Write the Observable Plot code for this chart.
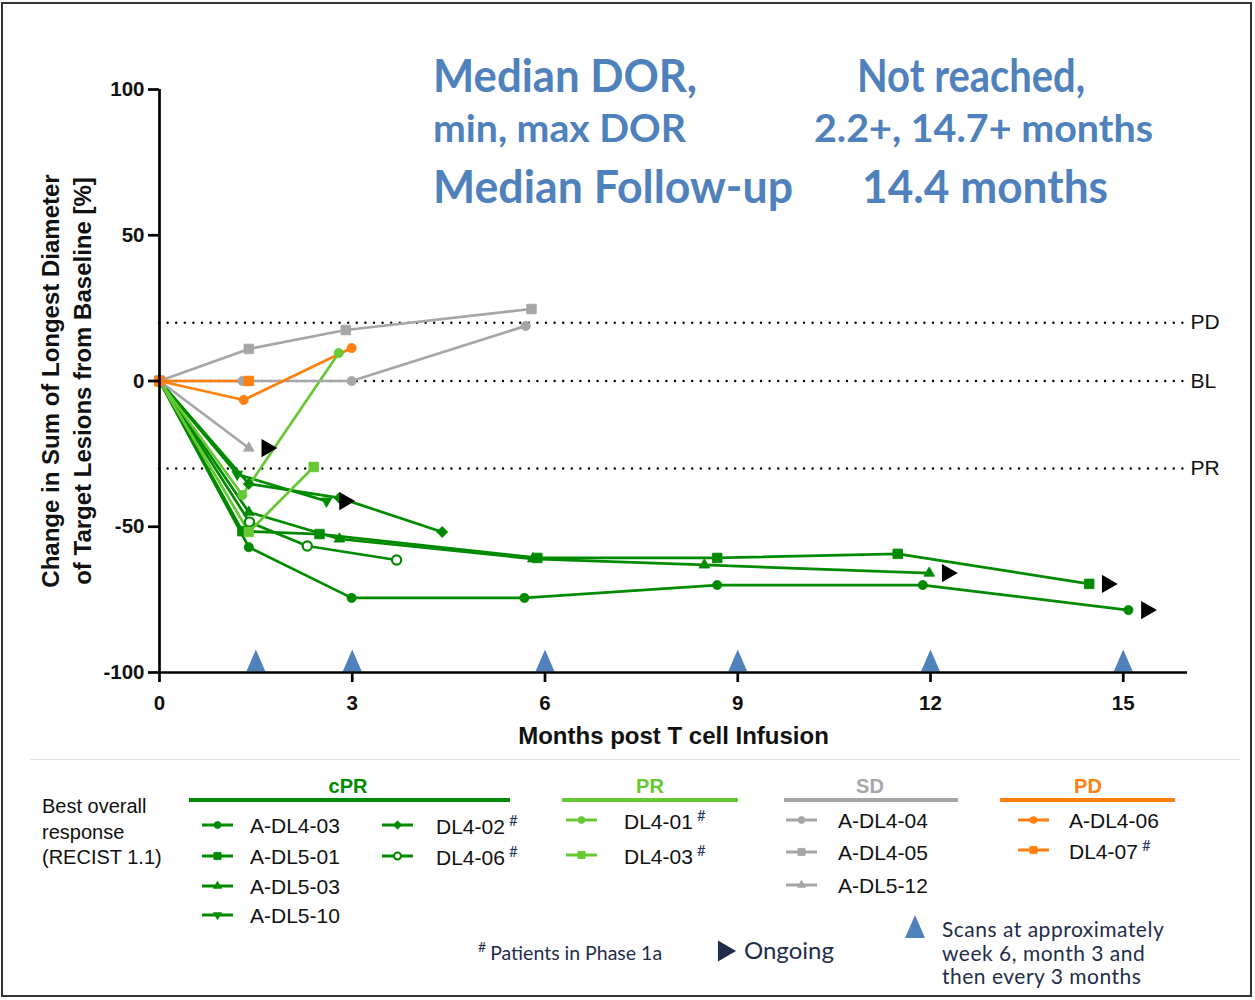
<!DOCTYPE html>
<html>
<head>
<meta charset="utf-8">
<script src="https://cdn.jsdelivr.net/npm/d3@7"></script>
<script src="https://cdn.jsdelivr.net/npm/@observablehq/plot@0.6"></script>
<style>
  body { margin: 0; background: #fff; }
  #wrap { position: relative; width: 1255px; height: 1000px; overflow: hidden; font-family: "Liberation Sans", Arial, sans-serif; background: #fff; }
  #chart { position: absolute; left: 0; top: 0; }
  #frame { position: absolute; left: 1px; top: 2px; width: 1251px; height: 995px; border: 2px solid #333; box-sizing: border-box; pointer-events: none; }
  #sep { position: absolute; left: 30px; top: 759px; width: 1210px; height: 0; border-top: 1px solid #e2e2e2; }
  .ann { position: absolute; font-family: Lato, "Open Sans", sans-serif; font-weight: bold; color: #4f81bd; white-space: nowrap; line-height: 1; }
  .lg { position: absolute; white-space: nowrap; line-height: 1; transform: translateY(-50%); font-size: 20px; color: #111; }
  .hd { position: absolute; font-weight: bold; font-size: 20px; transform: translate(-50%, -50%); line-height: 1; }
  .bar { position: absolute; height: 4px; }
  .sup { font-family: Lato, sans-serif; color: #1f3864; font-size: 15px; vertical-align: 0.55em; margin-left: 4px; }
  .note { position: absolute; font-family: Lato, "Open Sans", sans-serif; color: #1f2d4a; white-space: nowrap; line-height: 1; }
  svg.mk { position: absolute; overflow: visible; }
</style>
</head>
<body>
<div id="wrap">
  <div id="chart"></div>
  <div id="sep"></div>
  <div id="legend"></div>
  <div id="frame"></div>
</div>
<script>
// ---------------- data ----------------
const patients = ["A-DL4-03","A-DL5-01","A-DL5-03","A-DL5-10","DL4-02","DL4-06","DL4-01","DL4-03","A-DL4-04","A-DL4-05","A-DL5-12","A-DL4-06","DL4-07"];
const bestResponse = ["cPR","cPR","cPR","cPR","cPR","cPR","PR","PR","SD","SD","SD","PD","PD"];
const phase1a = ["DL4-02","DL4-06","DL4-01","DL4-03","DL4-07"];
const ongoing = ["A-DL4-03","A-DL5-01","A-DL5-03","A-DL5-10","A-DL5-12"];
const monthsByPatient = [
  [0, 1.39, 2.99, 5.68, 8.68, 11.88, 15.08],
  [0, 1.29, 2.49, 5.88, 8.68, 11.49, 14.47],
  [0, 1.39, 2.80, 5.81, 8.48, 11.98],
  [0, 1.21, 2.60],
  [0, 1.39, 2.80, 4.40],
  [0, 1.40, 2.30, 3.69],
  [0, 1.29, 2.79],
  [0, 1.39, 2.40],
  [0, 1.29, 2.99, 5.70],
  [0, 1.39, 2.90, 5.79],
  [0, 1.39],
  [0, 1.31, 2.99],
  [0, 1.39]
];
const changeByPatient = [
  [0, -57, -74.4, -74.4, -70, -70, -78.6],
  [0, -51.5, -52.5, -60.7, -60.7, -59.3, -69.6],
  [0, -45, -54.2, -61, -63.1, -65.9],
  [0, -32, -41.2],
  [0, -35.3, -40.1, -51.8],
  [0, -48.4, -56.6, -61.4],
  [0, -39.1, 9.6],
  [0, -51.8, -29.5],
  [0, 0, 0, 18.9],
  [0, 11, 17.5, 24.7],
  [0, -23],
  [0, -6.5, 11.3],
  [0, 0]
];
const scanMonths = [1.5, 3, 6, 9, 12, 15];
const thresholds = [20, 0, -30];
const thresholdLabels = ["PD", "BL", "PR"];
const xTicks = [0, 3, 6, 9, 12, 15];
const yTicks = [-100, -50, 0, 50, 100];
const responseOrder = ["cPR", "PR", "SD", "PD"];
const xLabel = "Months post T cell Infusion";
const yLabel = "Change in Sum of Longest Diameter\nof Target Lesions from Baseline [%]";
const annLeft = ["Median DOR,", "min, max DOR", "Median Follow-up"];
const annRight = ["Not reached,", "2.2+, 14.7+ months", "14.4 months"];
const legendTitle = ["Best overall", "response", "(RECIST 1.1)"];
const footnote = "Patients in Phase 1a";
const ongoingText = "Ongoing";
const scansText = ["Scans at approximately", "week 6, month 3 and", "then every 3 months"];

// ---------------- styles ----------------
const responseColors = ["#008a00", "#66c832", "#a6a6a6", "#ff7f0f"];
const colorOf = r => responseColors[responseOrder.indexOf(r)];
const markerOf = {
  "A-DL4-03": "circle", "A-DL5-01": "square", "A-DL5-03": "triangle", "A-DL5-10": "triangle-down",
  "DL4-02": "diamond", "DL4-06": "circle-open", "DL4-01": "circle", "DL4-03": "square",
  "A-DL4-04": "circle", "A-DL4-05": "square", "A-DL5-12": "triangle", "A-DL4-06": "circle", "DL4-07": "square"
};
const markerSpec = {
  "circle": {symbol: "circle", r: 4.6, open: false, rotate: 0},
  "circle-open": {symbol: "circle", r: 4.6, open: true, rotate: 0},
  "square": {symbol: "square", r: 5.4, open: false, rotate: 0},
  "triangle": {symbol: "triangle", r: 4, open: false, rotate: 0},
  "triangle-down": {symbol: "triangle", r: 4, open: false, rotate: 180},
  "diamond": {symbol: "diamond2", r: 5, open: false, rotate: 0}
};
const scanBlue = "#4f81bd";
const tallTriangle = { draw(ctx) { const h = 22, w = 9.5; ctx.moveTo(0, -h); ctx.lineTo(w, 0); ctx.lineTo(-w, 0); ctx.closePath(); } };

// ---------------- table ----------------
const rows = patients.flatMap((p, i) => monthsByPatient[i].map((m, j) => ({
  patient: p, response: bestResponse[i], month: m, change: changeByPatient[i][j]
})));
const lastRows = patients.map(p => rows.filter(d => d.patient === p).at(-1)).filter(d => ongoing.includes(d.patient));

const dotMarks = patients.map(p => {
  const s = markerSpec[markerOf[p]];
  const col = colorOf(bestResponse[patients.indexOf(p)]);
  return Plot.dot(rows.filter(d => d.patient === p), {
    x: "month", y: "change", symbol: s.symbol, r: s.r, rotate: s.rotate,
    fill: s.open ? "white" : col, stroke: col, strokeWidth: s.open ? 2.2 : 0.8
  });
});

const plot = Plot.plot({
  width: 1255, height: 760,
  marginLeft: 159, marginRight: 68, marginTop: 89, marginBottom: 88,
  x: {domain: [0, 16]},
  y: {domain: [-100, 100]},
  color: {domain: responseOrder, range: responseColors},
  style: {fontFamily: "'Liberation Sans', Arial, sans-serif", background: "transparent", overflow: "visible"},
  marks: [
    Plot.ruleY(thresholds, {stroke: "black", strokeWidth: 2.4, strokeDasharray: "0 8.6", strokeLinecap: "round"}),
    Plot.text(thresholds, {y: d => d, text: (d, i) => thresholdLabels[i], frameAnchor: "right", textAnchor: "start", dx: 3, fontSize: 21, fill: "#111"}),
    Plot.line(rows, {x: "month", y: "change", z: "patient", stroke: "response", strokeWidth: 2.7}),
    ...dotMarks,
    Plot.dot(lastRows, {x: "month", y: "change", symbol: "triangle", rotate: 90, r: 6.8, fill: "black", dx: 18}),
    Plot.dot(scanMonths, {x: d => d, frameAnchor: "bottom", symbol: tallTriangle, fill: scanBlue, r: 5, dy: -1}),
    Plot.ruleX([0], {stroke: "black", strokeWidth: 2.7}),
    Plot.ruleY([-100], {stroke: "black", strokeWidth: 2.7}),
    Plot.axisY({ticks: yTicks, tickFormat: d => String(d), tickSize: 11, tickPadding: 4, fontSize: 20.5, fontWeight: "bold", strokeWidth: 2.7, label: null, fill: "#111"}),
    Plot.axisX({ticks: xTicks, tickFormat: d => String(d), tickSize: 10, tickPadding: 13, fontSize: 20.5, fontWeight: "bold", strokeWidth: 2.7, label: null, fill: "#111"}),
    Plot.text([xLabel], {frameAnchor: "bottom", dy: 71, fontSize: 24, fontWeight: "bold", fill: "#111"}),
    Plot.text([yLabel], {frameAnchor: "left", textAnchor: "middle", rotate: -90, dx: -95, fontSize: 24, fontWeight: "bold", lineHeight: 1.33, fill: "#111"})
  ]
});
document.getElementById("chart").appendChild(plot);

// ---------------- annotations ----------------
const wrap = document.getElementById("wrap");
function addDiv(cls, text, style) {
  const d = document.createElement("div");
  d.className = cls;
  d.innerHTML = text;
  Object.assign(d.style, style);
  wrap.appendChild(d);
  return d;
}
// left edge, vertical centre, font size and target width of each annotation line
const annY = [75, 127, 186];
const annSize = [45, 38, 45];
const annLeftX = [433, 433, 433];
const annLeftW = [264, 253, 360];
const annRightX = [857, 814, 862];
const annRightW = [228, 339, 246];
function fitAnn(t, x, y, size, w) {
  const d = addDiv("ann", t, {left: x + "px", top: y + "px", fontSize: size + "px"});
  const r = d.getBoundingClientRect();
  d.style.transformOrigin = "0 0";
  d.style.transform = `translateY(${-r.height / 2}px) scaleX(${w / r.width})`;
}
annLeft.forEach((t, i) => fitAnn(t, annLeftX[i], annY[i], annSize[i], annLeftW[i]));
annRight.forEach((t, i) => fitAnn(t, annRightX[i], annY[i], annSize[i], annRightW[i]));

// ---------------- legend ----------------
function markerSvg(p, x, y) {
  const s = markerSpec[markerOf[p]];
  const col = colorOf(bestResponse[patients.indexOf(p)]);
  const sym = {circle: d3.symbolCircle, square: d3.symbolSquare, triangle: d3.symbolTriangle, diamond2: d3.symbolDiamond2}[s.symbol];
  const r = s.r * 0.75;
  const path = d3.symbol(sym, Math.PI * r * r)();
  const ns = "http://www.w3.org/2000/svg";
  const svg = document.createElementNS(ns, "svg");
  svg.setAttribute("class", "mk");
  svg.setAttribute("width", 32); svg.setAttribute("height", 14);
  svg.style.left = x + "px"; svg.style.top = (y - 7) + "px";
  svg.innerHTML = `<line x1="0" x2="31" y1="7" y2="7" stroke="${col}" stroke-width="3"/>` +
    `<path d="${path}" transform="translate(15.5,7) rotate(${s.rotate})" fill="${s.open ? "white" : col}" stroke="${col}" stroke-width="${s.open ? 2 : 0.8}"/>`;
  wrap.appendChild(svg);
}
legendTitle.forEach((t, i) => addDiv("lg", t, {left: "42px", top: (806 + i * 25.5) + "px"}));

const groupLayout = {
  cPR: {bar: [189, 510], hx: 348, cols: [{x: 202, tx: 250, ys: [825, 856, 886, 915]}, {x: 382, tx: 436, ys: [825, 856]}]},
  PR:  {bar: [562, 738], hx: 650, cols: [{x: 566, tx: 624, ys: [820, 855]}]},
  SD:  {bar: [784, 958], hx: 870, cols: [{x: 786, tx: 838, ys: [820, 852, 885]}]},
  PD:  {bar: [1000, 1175], hx: 1088, cols: [{x: 1018, tx: 1069, ys: [820, 850]}]}
};
responseOrder.forEach((resp, gi) => {
  const L = groupLayout[resp];
  const col = responseColors[gi];
  addDiv("hd", resp, {left: L.hx + "px", top: "786px", color: col});
  addDiv("bar", "", {left: L.bar[0] + "px", top: "798px", width: (L.bar[1] - L.bar[0]) + "px", background: col});
  const members = patients.filter((p, i) => bestResponse[i] === resp);
  let k = 0;
  L.cols.forEach(c => {
    c.ys.forEach(y => {
      const p = members[k++];
      if (!p) return;
      markerSvg(p, c.x, y);
      addDiv("lg", p + (phase1a.includes(p) ? '<span class="sup">#</span>' : ""), {left: c.tx + "px", top: y + "px", fontSize: "21px"});
    });
  });
});

// footnotes
addDiv("note", '<span style="font-size:14px;vertical-align:0.6em;margin-right:4px">#</span>' + footnote, {left: "478px", top: "940px", fontSize: "19.5px"});
const ns = "http://www.w3.org/2000/svg";
const og = document.createElementNS(ns, "svg");
og.setAttribute("class", "mk"); og.setAttribute("width", 20); og.setAttribute("height", 24);
og.style.left = "716px"; og.style.top = "939px";
og.innerHTML = `<path d="${d3.symbol(d3.symbolTriangle, 190)()}" transform="translate(8,12) rotate(90)" fill="#1f2d4a"/>`;
wrap.appendChild(og);
addDiv("note", ongoingText, {left: "744px", top: "938px", fontSize: "24px"});
const sc = document.createElementNS(ns, "svg");
sc.setAttribute("class", "mk"); sc.setAttribute("width", 22); sc.setAttribute("height", 24);
sc.style.left = "905px"; sc.style.top = "915px";
sc.innerHTML = `<path d="M10,0 L20,23 L0,23 Z" fill="${scanBlue}"/>`;
wrap.appendChild(sc);
scansText.forEach((t, i) => addDiv("note", t, {left: "942px", top: (918 + i * 23.5) + "px", fontSize: "21px", letterSpacing: "0.5px"}));
</script>
</body>
</html>
